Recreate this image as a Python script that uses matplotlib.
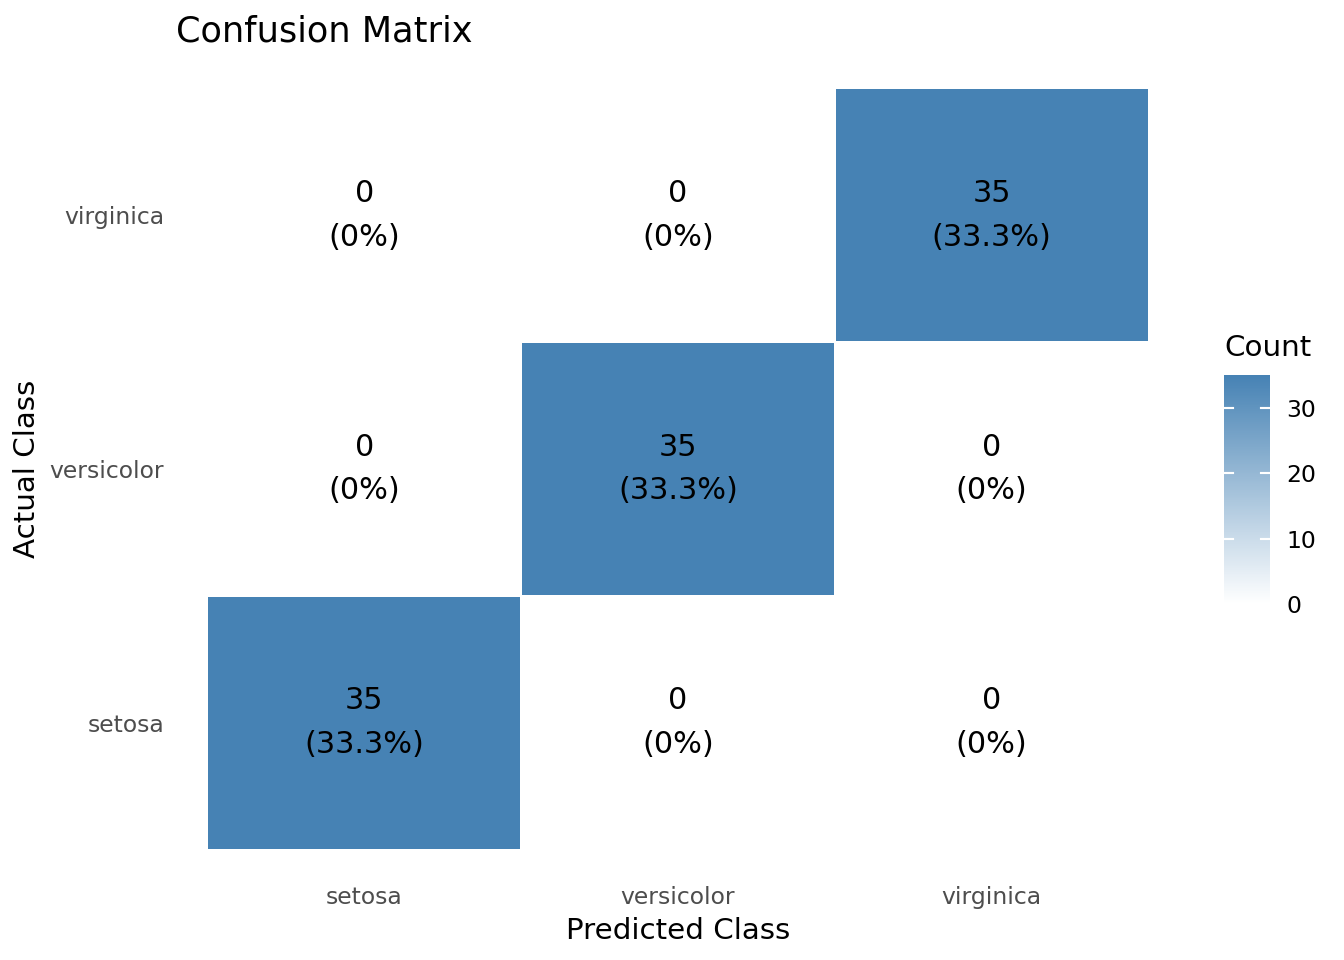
"""
Confusion matrix heatmap for the iris test split
"""

import matplotlib.pyplot as plt
import numpy as np
from matplotlib.colors import LinearSegmentedColormap

classes = ["setosa", "versicolor", "virginica"]
# rows = actual class, columns = predicted class
counts = np.array(
    [
        [35, 0, 0],
        [0, 35, 0],
        [0, 0, 35],
    ]
)
cbar_ticks = [0, 10, 20, 30]

plt.rcParams["font.family"] = "DejaVu Sans"

total = counts.sum()
cmap = LinearSegmentedColormap.from_list("wb", ["#FFFFFF", "#4682B4"])

fig = plt.figure(figsize=(7, 5), dpi=192)
ax = fig.add_axes([176 / 1344, 85 / 960, 1004 / 1344, 812 / 960])

mesh = ax.pcolormesh(
    np.arange(-0.5, len(classes)),
    np.arange(-0.5, len(classes)),
    counts,
    cmap=cmap,
    vmin=0,
    vmax=counts.max(),
    edgecolor="white",
    linewidth=0.6,
)

# labels in each tile
for i in range(len(classes)):
    for j in range(len(classes)):
        n = counts[i, j]
        pct = 100 * n / total
        pct_txt = f"{pct:.1f}%" if n > 0 else "0%"
        ax.text(
            j, i, f"{n}\n({pct_txt})",
            ha="center", va="center", fontsize=11.4, linespacing=1.64, color="black",
        )

ax.set_xlim(-0.6, len(classes) - 0.4)
ax.set_ylim(-0.6, len(classes) - 0.4)
ax.set_xticks(range(len(classes)))
ax.set_xticklabels(classes)
ax.set_yticks(range(len(classes)))
ax.set_yticklabels(classes)
ax.tick_params(length=0, labelsize=8.8, labelcolor="#4D4D4D")
ax.tick_params(axis="x", pad=4)
ax.tick_params(axis="y", pad=4.5)
for spine in ax.spines.values():
    spine.set_visible(False)

ax.set_xlabel("Predicted Class", fontsize=11, labelpad=3)
ax.set_ylabel("Actual Class", fontsize=11, labelpad=3)
ax.set_title("Confusion Matrix", fontsize=13.2, loc="left", pad=8)

# colour bar legend
cax = fig.add_axes([1224 / 1344, 356 / 960, 46 / 1344, 229 / 960])
cb = fig.colorbar(mesh, cax=cax, ticks=cbar_ticks)
cb.outline.set_visible(False)
cax.tick_params(length=0, labelsize=8.8, pad=6)
for t in cbar_ticks:
    cax.plot([0, 0.2], [t, t], color="white", lw=0.8, transform=cax.get_yaxis_transform())
    cax.plot([0.8, 1], [t, t], color="white", lw=0.8, transform=cax.get_yaxis_transform())
cax.set_title("Count", fontsize=11, loc="left", pad=7)

plt.savefig("out.png", dpi=192)
plt.close()
